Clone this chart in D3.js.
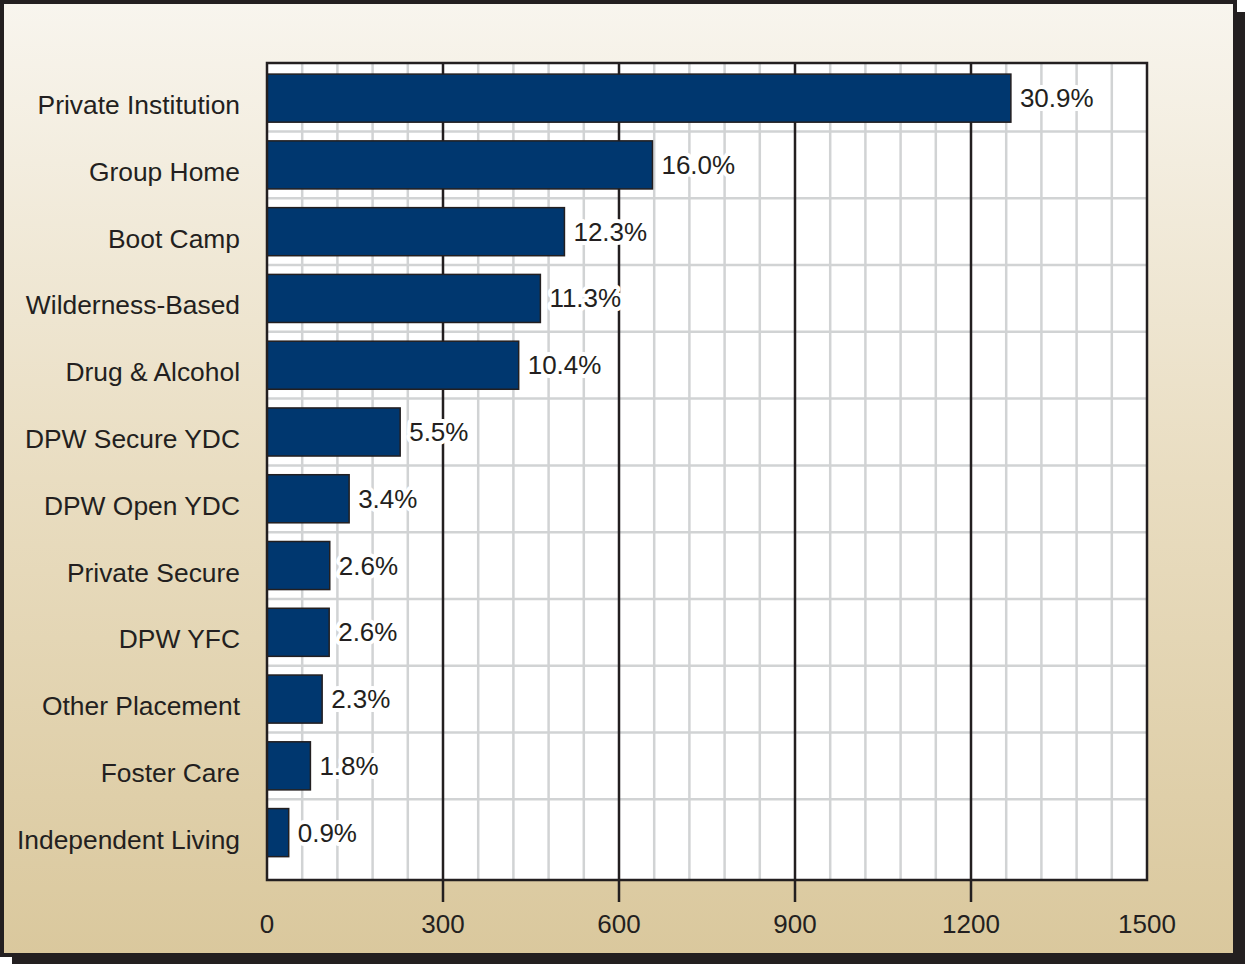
<!DOCTYPE html>
<html>
<head>
<meta charset="utf-8">
<script src="https://cdn.jsdelivr.net/npm/d3@7"></script>
<style>
  html, body { margin: 0; padding: 0; background: #ffffff; }
  svg { display: block; }
  text { font-family: "Liberation Sans", Arial, Helvetica, sans-serif; fill: #231f20; }
</style>
</head>
<body>
<svg id="mainsvg" width="1245" height="964"></svg>
<script>

// data
const categories = ["Private Institution", "Group Home", "Boot Camp", "Wilderness-Based",
  "Drug & Alcohol", "DPW Secure YDC", "DPW Open YDC", "Private Secure", "DPW YFC",
  "Other Placement", "Foster Care", "Independent Living"]
const counts = [1268, 657, 507, 466, 429, 227, 140, 107, 106, 94, 74, 37]
const percents = ["30.9%", "16.0%", "12.3%", "11.3%", "10.4%", "5.5%", "3.4%", "2.6%",
  "2.6%", "2.3%", "1.8%", "0.9%"]
const xTicks = [0, 300, 600, 900, 1200, 1500]
const minorTicks = d3.range(60, 1500, 60).filter(v => v % 300 !== 0)

const WIDTH = 1245, HEIGHT = 964
const PLOT = { left: 267, right: 1147, top: 63, bottom: 880 }
const DARK = "#231f20"
const GRID = "#d1d3d4"
const BAR = "#00376f"

let svg = d3.select("#mainsvg")

// background card + drop shadow
let defs = svg.append("defs")
let grad = defs.append("linearGradient").attr("id", "bg")
  .attr("x1", 0).attr("y1", 0).attr("x2", 0).attr("y2", 1)
grad.append("stop").attr("offset", "0%").attr("stop-color", "#f8f5ee")
grad.append("stop").attr("offset", "50%").attr("stop-color", "#e9ddc1")
grad.append("stop").attr("offset", "100%").attr("stop-color", "#dac89d")

svg.append("rect")
  .attr("x", 12).attr("y", 12)
  .attr("width", WIDTH - 12).attr("height", HEIGHT - 12)
  .attr("fill", DARK)

svg.append("rect")
  .attr("x", 2).attr("y", 2)
  .attr("width", 1233).attr("height", 953)
  .attr("fill", "url(#bg)")
  .attr("stroke", DARK)
  .attr("stroke-width", 4)

// scales
let x = d3.scaleLinear().domain([0, 1500]).range([PLOT.left, PLOT.right])
let y = d3.scaleBand().domain(categories).range([64.75, 866])
  .paddingInner(0.28).paddingOuter(0.14)
let rowPad = y.step() * 0.14

let plot = svg.append("g").attr("id", "plot")

plot.append("rect")
  .attr("x", PLOT.left).attr("y", PLOT.top)
  .attr("width", PLOT.right - PLOT.left).attr("height", PLOT.bottom - PLOT.top)
  .attr("fill", "#ffffff")

// horizontal row separators
plot.selectAll(".hgrid")
  .data(categories.slice(1))
  .enter()
  .append("line")
  .attr("class", "hgrid")
  .attr("x1", PLOT.left).attr("x2", PLOT.right)
  .attr("y1", d => y(d) - rowPad).attr("y2", d => y(d) - rowPad)
  .attr("stroke", GRID).attr("stroke-width", 2.5)

// minor vertical grid
plot.selectAll(".vgrid")
  .data(minorTicks)
  .enter()
  .append("line")
  .attr("class", "vgrid")
  .attr("x1", d => x(d)).attr("x2", d => x(d))
  .attr("y1", PLOT.top).attr("y2", PLOT.bottom)
  .attr("stroke", GRID).attr("stroke-width", 2.5)

// major vertical grid, running down into tick marks
plot.selectAll(".major")
  .data(xTicks.slice(1, -1))
  .enter()
  .append("line")
  .attr("class", "major")
  .attr("x1", d => x(d)).attr("x2", d => x(d))
  .attr("y1", PLOT.top).attr("y2", 902)
  .attr("stroke", DARK).attr("stroke-width", 2.5)

// bars
plot.selectAll(".bar")
  .data(categories)
  .enter()
  .append("rect")
  .attr("class", "bar")
  .attr("x", x(0))
  .attr("y", d => y(d))
  .attr("width", (d, i) => x(counts[i]) - x(0))
  .attr("height", y.bandwidth())
  .attr("fill", BAR)
  .attr("stroke", DARK)
  .attr("stroke-width", 1.5)

// value labels with white halo
plot.selectAll(".val")
  .data(categories)
  .enter()
  .append("text")
  .attr("class", "val")
  .attr("x", (d, i) => x(counts[i]) + 9)
  .attr("y", d => y(d) + y.bandwidth() / 2 + 9)
  .attr("font-size", 26)
  .attr("stroke", "#ffffff")
  .attr("stroke-width", 8)
  .attr("stroke-linejoin", "round")
  .attr("paint-order", "stroke")
  .text((d, i) => percents[i])

// plot frame
plot.append("rect")
  .attr("x", PLOT.left).attr("y", PLOT.top)
  .attr("width", PLOT.right - PLOT.left).attr("height", PLOT.bottom - PLOT.top)
  .attr("fill", "none")
  .attr("stroke", DARK).attr("stroke-width", 2.5)

// category labels
svg.selectAll(".cat")
  .data(categories)
  .enter()
  .append("text")
  .attr("class", "cat")
  .attr("x", 240)
  .attr("y", d => y(d) + y.bandwidth() / 2 + 16)
  .attr("text-anchor", "end")
  .attr("font-size", 26.4)
  .text(d => d)

// x tick labels
svg.selectAll(".tick")
  .data(xTicks)
  .enter()
  .append("text")
  .attr("class", "tick")
  .attr("x", d => x(d))
  .attr("y", 933)
  .attr("text-anchor", "middle")
  .attr("font-size", 26)
  .text(d => d)

</script>
</body>
</html>
